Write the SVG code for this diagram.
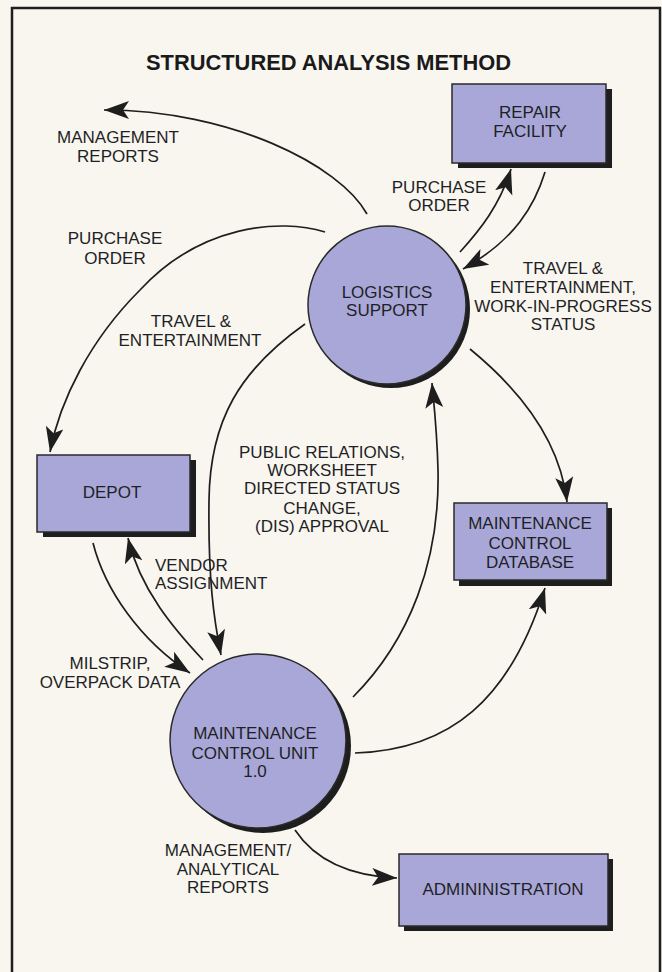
<svg xmlns="http://www.w3.org/2000/svg" width="662" height="972" viewBox="0 0 662 972">
<style>
.t{font-family:"Liberation Sans",Arial,sans-serif;font-size:17px;fill:#1f1f26;text-anchor:middle}
.title{font-family:"Liberation Sans",Arial,sans-serif;font-size:22px;font-weight:bold;fill:#1a1a1a;text-anchor:middle}
.box{fill:#a9a7d8;stroke:#2a2a2a;stroke-width:1.5}
.sh{fill:#1e1e1e}
.c{fill:none;stroke:#1e1e1e;stroke-width:1.7}
</style>
<defs>
<marker id="ah" markerUnits="userSpaceOnUse" markerWidth="28" markerHeight="20" refX="25" refY="9" orient="auto">
<path d="M0,0 L25,9 L0,18 L6,9 Z" fill="#1e1e1e"/>
</marker>
</defs>
<rect x="0" y="0" width="662" height="972" fill="#f8f6ef"/>
<rect x="12" y="8" width="648" height="1000" fill="none" stroke="#1e1e1e" stroke-width="2.5"/>
<text class="title" x="328.5" y="70" textLength="365" lengthAdjust="spacingAndGlyphs">STRUCTURED ANALYSIS METHOD</text>

<g id="connectors">
<path class="c" marker-end="url(#ah)" d="M367,214 C340,165 230,110 104,110"/>
<path class="c" marker-end="url(#ah)" d="M325,232 C280,218 200,225 140,290 C90,340 60,400 50,452"/>
<path class="c" marker-end="url(#ah)" d="M305,324 C240,370 210,420 209,500 C208,580 214,620 221,655"/>
<path class="c" marker-end="url(#ah)" d="M93,543 C105,590 140,640 190,673"/>
<path class="c" marker-end="url(#ah)" d="M203,660 C175,630 140,590 128,538"/>
<path class="c" marker-end="url(#ah)" d="M460,252 C480,230 500,205 511,169"/>
<path class="c" marker-end="url(#ah)" d="M545,172 C535,205 515,240 463,269"/>
<path class="c" marker-end="url(#ah)" d="M470,349 C520,390 560,440 567,502"/>
<path class="c" marker-end="url(#ah)" d="M353,697 C410,640 440,560 438,470 C437,430 434,405 432,383"/>
<path class="c" marker-end="url(#ah)" d="M355,753 C450,750 510,700 545,588"/>
<path class="c" marker-end="url(#ah)" d="M295,830 C315,860 350,876 397,878"/>
</g>

<g id="labels">
<text class="t" x="118" y="143">MANAGEMENT</text>
<text class="t" x="118" y="162">REPORTS</text>
<text class="t" x="115" y="244">PURCHASE</text>
<text class="t" x="115" y="264">ORDER</text>
<text class="t" x="191" y="327">TRAVEL &amp;</text>
<text class="t" x="190" y="346">ENTERTAINMENT</text>
<text class="t" x="439" y="193">PURCHASE</text>
<text class="t" x="439" y="211">ORDER</text>
<text class="t" x="563" y="274">TRAVEL &amp;</text>
<text class="t" x="563" y="293">ENTERTAINMENT,</text>
<text class="t" x="563" y="312">WORK-IN-PROGRESS</text>
<text class="t" x="563" y="330">STATUS</text>
<text class="t" x="322" y="458">PUBLIC RELATIONS,</text>
<text class="t" x="322" y="476">WORKSHEET</text>
<text class="t" x="322" y="494">DIRECTED STATUS</text>
<text class="t" x="322" y="514">CHANGE,</text>
<text class="t" x="322" y="532">(DIS) APPROVAL</text>
<text class="t" x="155" y="571" style="text-anchor:start">VENDOR</text>
<text class="t" x="155" y="589" style="text-anchor:start">ASSIGNMENT</text>
<text class="t" x="110" y="669">MILSTRIP,</text>
<text class="t" x="110" y="688">OVERPACK DATA</text>
<text class="t" x="228" y="856">MANAGEMENT/</text>
<text class="t" x="228" y="875">ANALYTICAL</text>
<text class="t" x="228" y="893">REPORTS</text>
</g>

<g id="repair-facility">
<rect class="sh" x="458" y="89" width="154" height="79"/>
<rect class="box" x="452" y="84" width="154" height="79"/>
<text class="t" x="530" y="118">REPAIR</text>
<text class="t" x="530" y="137">FACILITY</text>
</g>

<g id="logistics-support">
<circle class="sh" cx="391" cy="309" r="79"/>
<circle class="box" cx="387" cy="305" r="79"/>
<text class="t" x="387" y="298">LOGISTICS</text>
<text class="t" x="387" y="316">SUPPORT</text>
</g>

<g id="depot">
<rect class="sh" x="43" y="460" width="153" height="77"/>
<rect class="box" x="37" y="455" width="153" height="77"/>
<text class="t" x="112" y="498">DEPOT</text>
</g>

<g id="maintenance-control-database">
<rect class="sh" x="459" y="508" width="153" height="78"/>
<rect class="box" x="454" y="503" width="153" height="77"/>
<text class="t" x="530" y="529">MAINTENANCE</text>
<text class="t" x="530" y="549">CONTROL</text>
<text class="t" x="530" y="568">DATABASE</text>
</g>

<g id="maintenance-control-unit">
<ellipse class="sh" cx="263" cy="746" rx="88" ry="87"/>
<ellipse class="box" cx="258" cy="741" rx="88" ry="87"/>
<text class="t" x="255" y="739">MAINTENANCE</text>
<text class="t" x="255" y="759">CONTROL UNIT</text>
<text class="t" x="255" y="777">1.0</text>
</g>

<g id="administration">
<rect class="sh" x="404" y="859" width="209" height="72"/>
<rect class="box" x="399" y="854" width="209" height="72"/>
<text class="t" x="503" y="895">ADMININISTRATION</text>
</g>
</svg>
